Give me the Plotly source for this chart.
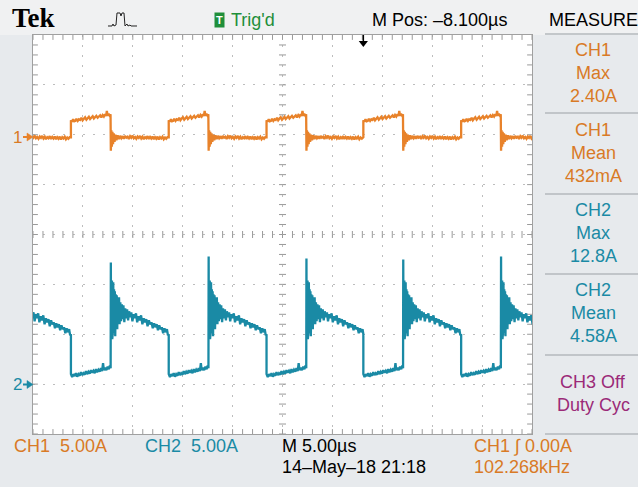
import numpy as np
import plotly.graph_objects as go

# ---------------- values read from the scope screen ----------------
# time in µs relative to the trigger; 5 µs/div, M Pos -8.100 µs at screen centre
T_LEFT, T_RIGHT = -33.1, 16.9
AMPS_PER_DIV = 5.0
# CH1 rising edges (CH2 falls at the same instants), µs
rise_times = [-39.1, -29.3, -19.5, -9.7, 0.0, 9.8]
# CH2 turn-on spike height of each period, A
ch2_peaks = [12.5, 12.2, 12.8, 12.6, 12.5, 12.8]

# one period of CH1 current: (offset from its rising edge in µs, current in A)
ch1_period = [
    (0.00, -0.25), (0.00, 1.45), (0.10, 1.30), (0.22, 1.55), (0.33, 1.35), (0.45, 1.40),
    (0.55, 1.60), (0.68, 1.38), (0.80, 1.55), (0.92, 1.48), (1.05, 1.70), (1.17, 1.45),
    (1.30, 1.62), (1.42, 1.75), (1.55, 1.50), (1.66, 1.68), (1.80, 1.80), (1.92, 1.58),
    (2.05, 1.72), (2.18, 1.85), (2.30, 1.62), (2.42, 1.78), (2.55, 1.90), (2.68, 1.70),
    (2.80, 1.82), (2.93, 1.95), (3.05, 1.74), (3.18, 1.98), (3.30, 1.82), (3.42, 2.05),
    (3.52, 1.88), (3.60, 2.40), (3.68, 1.90), (3.78, 2.10), (3.88, 1.92), (3.97, 2.05),
    (4.00, -1.60), (4.05, 0.45), (4.10, -1.20), (4.16, 0.30), (4.22, -0.95), (4.29, 0.15),
    (4.37, -0.70), (4.46, 0.00), (4.56, -0.55), (4.68, -0.05), (4.80, -0.45), (4.92, -0.10),
    (5.05, -0.35), (5.18, -0.15), (5.30, -0.40), (5.42, -0.12), (5.55, -0.30), (5.68, -0.20),
    (5.80, -0.42), (5.93, -0.15), (6.05, -0.30), (6.18, -0.10), (6.30, -0.35), (6.43, -0.22),
    (6.55, -0.40), (6.68, -0.18), (6.80, -0.32), (6.93, -0.12), (7.05, -0.38), (7.18, -0.20),
    (7.30, -0.45), (7.43, -0.25), (7.55, -0.35), (7.68, -0.15), (7.80, -0.42), (7.93, -0.22),
    (8.05, -0.38), (8.18, -0.18), (8.30, -0.45), (8.43, -0.25), (8.55, -0.40), (8.68, -0.20),
    (8.80, -0.48), (8.93, -0.25), (9.05, -0.38), (9.18, -0.20), (9.30, -0.45), (9.43, -0.28),
    (9.55, -0.40), (9.67, -0.25),
]

# one period of CH2 current: (offset from the CH1 rising edge in µs, current in A);
# None marks the turn-on spike, whose height is in ch2_peaks
ch2_period = [
    (0.00, 5.0), (0.00, 1.0), (0.12, 0.7), (0.25, 1.0), (0.37, 0.8), (0.50, 1.1), (0.62, 0.75),
    (0.75, 1.0), (0.88, 0.85), (1.00, 1.2), (1.12, 0.9), (1.25, 1.1), (1.38, 0.95), (1.50, 1.3),
    (1.62, 1.0), (1.75, 1.25), (1.88, 1.05), (2.00, 1.4), (2.12, 1.15), (2.25, 1.35), (2.38, 1.1),
    (2.50, 1.5), (2.62, 1.2), (2.75, 1.45), (2.88, 1.25), (3.00, 1.6), (3.12, 1.3), (3.22, 2.1),
    (3.30, 1.4), (3.42, 1.65), (3.55, 1.4), (3.68, 1.75), (3.80, 1.5), (3.90, 1.85), (3.98, 1.6),
    (4.00, None), (4.02, 4.6), (4.05, 10.8), (4.08, 5.0), (4.11, 10.4), (4.14, 4.5), (4.17, 9.9),
    (4.21, 5.3), (4.24, 10.2), (4.28, 5.1), (4.32, 9.5), (4.36, 5.6), (4.40, 9.3), (4.44, 4.8),
    (4.49, 9.0), (4.54, 5.9), (4.59, 8.9), (4.64, 5.5), (4.70, 8.6), (4.76, 6.1), (4.82, 8.7),
    (4.88, 6.0), (4.95, 8.2), (5.02, 6.3), (5.10, 8.0), (5.18, 6.5), (5.26, 7.9), (5.35, 6.2),
    (5.44, 7.6), (5.53, 6.6), (5.63, 7.5), (5.73, 6.4), (5.83, 7.3), (5.94, 6.7), (6.05, 7.2),
    (6.16, 6.3), (6.28, 7.0), (6.40, 6.6), (6.52, 7.1), (6.64, 6.2), (6.77, 6.8), (6.90, 6.4),
    (7.03, 6.9), (7.16, 6.0), (7.29, 6.6), (7.42, 6.2), (7.55, 6.5), (7.68, 5.8), (7.81, 6.4),
    (7.94, 6.0), (8.07, 6.2), (8.20, 5.6), (8.33, 6.1), (8.46, 5.7), (8.59, 6.0), (8.72, 5.4),
    (8.85, 5.9), (8.98, 5.5), (9.11, 5.7), (9.24, 5.1), (9.37, 5.6), (9.50, 5.2), (9.62, 5.5),
    (9.72, 4.9),
]

measure_lines = [["CH1", "Max", "2.40A"], ["CH1", "Mean", "432mA"],
                 ["CH2", "Max", "12.8A"], ["CH2", "Mean", "4.58A"], ["CH3 Off", "Duty Cyc"]]

# ---------------- styling / layout constants ----------------
W, H = 638, 487
PL, PR, PT, PB = 33, 532, 35, 434          # graticule box in pixels
CH1_POS, CH2_POS = 2.0, -3.0               # channel ground positions (divisions)
C_CH1 = "#e8822a"
C_CH1_TXT = "#d97a26"
C_CH2 = "#1a8aa5"
C_CH3 = "#9b2a78"
C_TRIG = "#1f8f3a"
FONT = "Liberation Sans Narrow, Arial Narrow, Liberation Sans, sans-serif"


def xp(px):
    return (px - PL) / (PR - PL)


def yp(py):
    return (PB - py) / (PB - PT)


# place the per-period readings at each edge
ch1_t, ch1_i, ch2_t, ch2_i = [], [], [], []
for r, pk in zip(rise_times, ch2_peaks):
    for o, a in ch1_period:
        ch1_t.append(r + o)
        ch1_i.append(a)
    for o, a in ch2_period:
        ch2_t.append(r + o)
        ch2_i.append(pk if a is None else a)

ch1_y = [CH1_POS + a / AMPS_PER_DIV for a in ch1_i]
ch2_y = [CH2_POS + a / AMPS_PER_DIV for a in ch2_i]

fig = go.Figure()

# graticule tick marks (edges and centre cross)
tx = np.arange(T_LEFT, T_RIGHT + 0.01, 1.0)
ty = np.arange(-4.0, 4.01, 0.2)
tick_col = "#9a9a9a"
for yy in (4.0, -4.0):
    fig.add_trace(go.Scatter(x=tx, y=[yy] * len(tx), mode="markers", hoverinfo="skip",
                             marker=dict(symbol="line-ns", size=7, line=dict(width=1, color=tick_col))))
for xx in (T_LEFT, T_RIGHT):
    fig.add_trace(go.Scatter(x=[xx] * len(ty), y=ty, mode="markers", hoverinfo="skip",
                             marker=dict(symbol="line-ew", size=7, line=dict(width=1, color=tick_col))))
fig.add_trace(go.Scatter(x=tx, y=[0] * len(tx), mode="markers", hoverinfo="skip",
                         marker=dict(symbol="line-ns", size=5, line=dict(width=1, color=tick_col))))
fig.add_trace(go.Scatter(x=[(T_LEFT + T_RIGHT) / 2] * len(ty), y=ty, mode="markers", hoverinfo="skip",
                         marker=dict(symbol="line-ew", size=5, line=dict(width=1, color=tick_col))))

# waveforms
fig.add_trace(go.Scatter(x=ch1_t, y=ch1_y, mode="lines", hoverinfo="skip",
                         line=dict(color=C_CH1, width=2.3)))
fig.add_trace(go.Scatter(x=ch2_t, y=ch2_y, mode="lines", hoverinfo="skip",
                         line=dict(color=C_CH2, width=2.3)))

# trigger position marker at t = 0
fig.add_trace(go.Scatter(x=[0, 0], y=[4.0, 3.86], mode="lines", cliponaxis=False, hoverinfo="skip",
                         line=dict(color="black", width=1.5)))
fig.add_trace(go.Scatter(x=[0], y=[3.84], mode="markers", cliponaxis=False, hoverinfo="skip",
                         marker=dict(symbol="triangle-down", size=8, color="black")))

axis_common = dict(showticklabels=False, ticks="", zeroline=False, showline=True, mirror=True,
                   linecolor="#a0a0a0", linewidth=1, showgrid=True, gridcolor="#bdbdbd",
                   gridwidth=1, griddash="2px,8px", fixedrange=True)
fig.update_xaxes(range=[T_LEFT, T_RIGHT], tick0=T_LEFT, dtick=5, **axis_common)
fig.update_yaxes(range=[-4, 4], tick0=-4, dtick=1, **axis_common)

shapes = []
# top bar background
shapes.append(dict(type="rect", xref="paper", yref="paper", x0=xp(0), x1=xp(W), y0=yp(PT), y1=yp(0),
                   fillcolor="#f0f1f2", line=dict(width=0), layer="below"))
# right panel separators
for sy in (34, 113, 194, 274, 355, 434):
    shapes.append(dict(type="line", xref="paper", yref="paper", x0=xp(545), x1=xp(638),
                       y0=yp(sy), y1=yp(sy), line=dict(color="#b4b8bc", width=1.5)))
# acquisition icon
icon = [(108, 26), (112, 26), (113, 24), (114, 26), (116, 25), (117, 13), (120, 13), (121, 16),
        (122, 13), (124, 13), (125, 26), (127, 24), (128, 26), (130, 25), (131, 26), (137, 26)]
path = "M " + " L ".join(f"{xp(a):.5f},{yp(b):.5f}" for a, b in icon)
shapes.append(dict(type="path", xref="paper", yref="paper", path=path,
                   line=dict(color="#222222", width=1)))
# channel ground arrows in the left margin
for gy, col in ((137, C_CH1), (384.5, C_CH2)):
    shapes.append(dict(type="line", xref="paper", yref="paper", x0=xp(23), x1=xp(29),
                       y0=yp(gy), y1=yp(gy), line=dict(color=col, width=2)))
    tri = f"M {xp(27):.5f},{yp(gy - 4):.5f} L {xp(33):.5f},{yp(gy):.5f} L {xp(27):.5f},{yp(gy + 4):.5f} Z"
    shapes.append(dict(type="path", xref="paper", yref="paper", path=tri, fillcolor=col,
                       line=dict(color=col, width=0.5)))

ann = []


def txt(x, y, s, color="black", size=18, anchor="left", family=FONT, **kw):
    ann.append(dict(x=xp(x), y=yp(y), xref="paper", yref="paper", text=s, showarrow=False,
                    xanchor=anchor, yanchor="middle", font=dict(family=family, size=size, color=color),
                    **kw))


txt(10, 18, "<b>Tek</b>", size=27, family="Liberation Serif, DejaVu Serif, serif")
txt(219, 20, "<b>T</b>", color="white", size=11, anchor="center", bgcolor=C_TRIG, borderpad=1,
    family="Liberation Sans, sans-serif")
txt(229, 20, "Trig'd", color=C_TRIG)
txt(370, 20, "M Pos: –8.100µs")
txt(593, 20, "MEASURE", anchor="center")

txt(17, 137, "1", color=C_CH1_TXT, size=17, anchor="center")
txt(17, 384, "2", color=C_CH2, size=17, anchor="center")

block_centres = [73, 153, 233, 313, 393]
block_colors = [C_CH1_TXT, C_CH1_TXT, C_CH2, C_CH2, C_CH3]
for lines, cy, col in zip(measure_lines, block_centres, block_colors):
    n = len(lines)
    for k, s in enumerate(lines):
        txt(593, cy + (k - (n - 1) / 2) * 23, s, color=col, anchor="center")

txt(12, 446, "CH1  5.00A", color=C_CH1_TXT)
txt(143, 446, "CH2  5.00A", color=C_CH2)
txt(280, 446, "M 5.00µs")
txt(280, 467, "14–May–18 21:18")
txt(472, 446, "CH1 ∫ 0.00A", color=C_CH1_TXT)
txt(472, 467, "102.268kHz", color=C_CH1_TXT)

fig.update_layout(width=W, height=H, margin=dict(l=PL, r=W - PR, t=PT, b=H - PB, pad=0),
                  paper_bgcolor="#e7eaed", plot_bgcolor="white", showlegend=False,
                  shapes=shapes, annotations=ann)

fig.write_html("out.html")
